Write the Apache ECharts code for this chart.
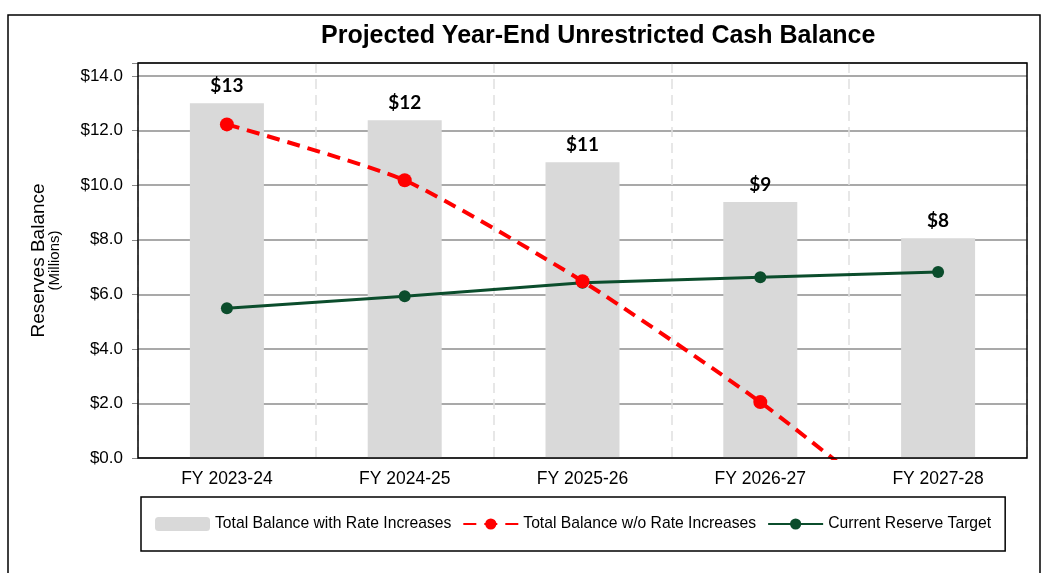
<!DOCTYPE html>
<html>
<head>
<meta charset="UTF-8">
<title>Projected Year-End Unrestricted Cash Balance</title>
<script src="https://cdn.jsdelivr.net/npm/echarts@6/dist/echarts.min.js"></script>
<style>
  html, body { margin: 0; padding: 0; background: #fff; }
  #main { width: 1047px; height: 573px; }
</style>
</head>
<body>
<div id="main"></div>
<script>
// data (millions)
var categories = ['FY 2023-24', 'FY 2024-25', 'FY 2025-26', 'FY 2026-27', 'FY 2027-28'];
var withRates = [13.0, 12.38, 10.84, 9.38, 8.06];
var withoutRates = [12.23, 10.18, 6.48, 2.05, -3.1];
var reserveTarget = [5.49, 5.93, 6.42, 6.63, 6.82];
var yTicks = [0, 2, 4, 6, 8, 10, 12, 14];

var chart = echarts.init(document.getElementById('main'));
var font = 'Liberation Sans, Arial, sans-serif';

chart.setOption({
  animation: false,
  textStyle: { fontFamily: font },
  title: {
    text: 'Projected Year-End Unrestricted Cash Balance',
    left: 316,
    top: 19,
    textStyle: { fontSize: 25, fontWeight: 'bold', color: '#000', fontFamily: font }
  },
  grid: {
    left: 138, right: 20, top: 63, bottom: 115
  },
  legend: {
    left: 141, top: 497,
    padding: [19, 14, 19, 14],
    borderColor: '#000', borderWidth: 1.5,
    itemWidth: 55, itemHeight: 14, itemGap: 11,
    textStyle: { fontSize: 15.7, color: '#000', fontFamily: font },
    data: ['Total Balance with Rate Increases', 'Total Balance w/o Rate Increases', 'Current Reserve Target']
  },
  xAxis: {
    type: 'category',
    data: categories,
    axisLine: { show: false },
    axisTick: { show: false },
    axisLabel: { fontSize: 17.5, color: '#000', margin: 12, fontFamily: font },
    splitLine: { show: true, lineStyle: { color: '#e0e0e0', width: 1.5, type: [10, 6] } }
  },
  yAxis: {
    type: 'value',
    min: 0, max: 14.48, interval: 2,
    name: '{a|Reserves Balance}\n{b|(Millions)}',
    nameLocation: 'middle',
    nameGap: 76,
    nameRotate: 90,
    nameTextStyle: {
      rich: {
        a: { fontSize: 19, color: '#000', fontFamily: font, lineHeight: 17, align: 'center' },
        b: { fontSize: 15, color: '#000', fontFamily: font, lineHeight: 15, align: 'center' }
      }
    },
    axisLine: { show: false },
    axisTick: { show: true, length: 6, lineStyle: { color: '#888' } },
    axisLabel: {
      fontSize: 17, color: '#000', margin: 15, fontFamily: font,
      formatter: function (v) { return yTicks.indexOf(v) >= 0 ? '$' + v.toFixed(1) : ''; }
    },
    splitLine: { lineStyle: { color: '#8c8c8c', width: 1.5 } }
  },
  series: [
    {
      name: 'Total Balance with Rate Increases',
      type: 'bar',
      data: withRates,
      barWidth: 74,
      itemStyle: { color: '#d9d9d9' },
      label: {
        show: true, position: 'top', distance: 8,
        fontSize: 19, fontWeight: 'bold', color: '#000', fontFamily: 'Lato, sans-serif',
        formatter: function (p) { return '$' + Math.round(p.value); }
      },
      z: 1
    },
    {
      name: 'Total Balance w/o Rate Increases',
      type: 'line',
      data: withoutRates,
      smooth: 0.2,
      symbol: 'circle',
      symbolSize: 14,
      itemStyle: { color: '#ff0000' },
      lineStyle: { color: '#ff0000', width: 4, type: [13, 8] },
      clip: true,
      z: 3
    },
    {
      name: 'Current Reserve Target',
      type: 'line',
      data: reserveTarget,
      symbol: 'circle',
      symbolSize: 12,
      itemStyle: { color: '#0b4d2c' },
      lineStyle: { color: '#0b4d2c', width: 3 },
      z: 2
    }
  ],
  graphic: [
    {
      type: 'rect',
      shape: { x: 8, y: 15, width: 1032, height: 570 },
      style: { fill: 'none', stroke: '#000', lineWidth: 1.5 },
      silent: true
    },
    {
      type: 'rect',
      shape: { x: 138, y: 63, width: 889, height: 395 },
      style: { fill: 'none', stroke: '#000', lineWidth: 1.5 },
      z: 100,
      silent: true
    }
  ]
});
</script>
</body>
</html>
